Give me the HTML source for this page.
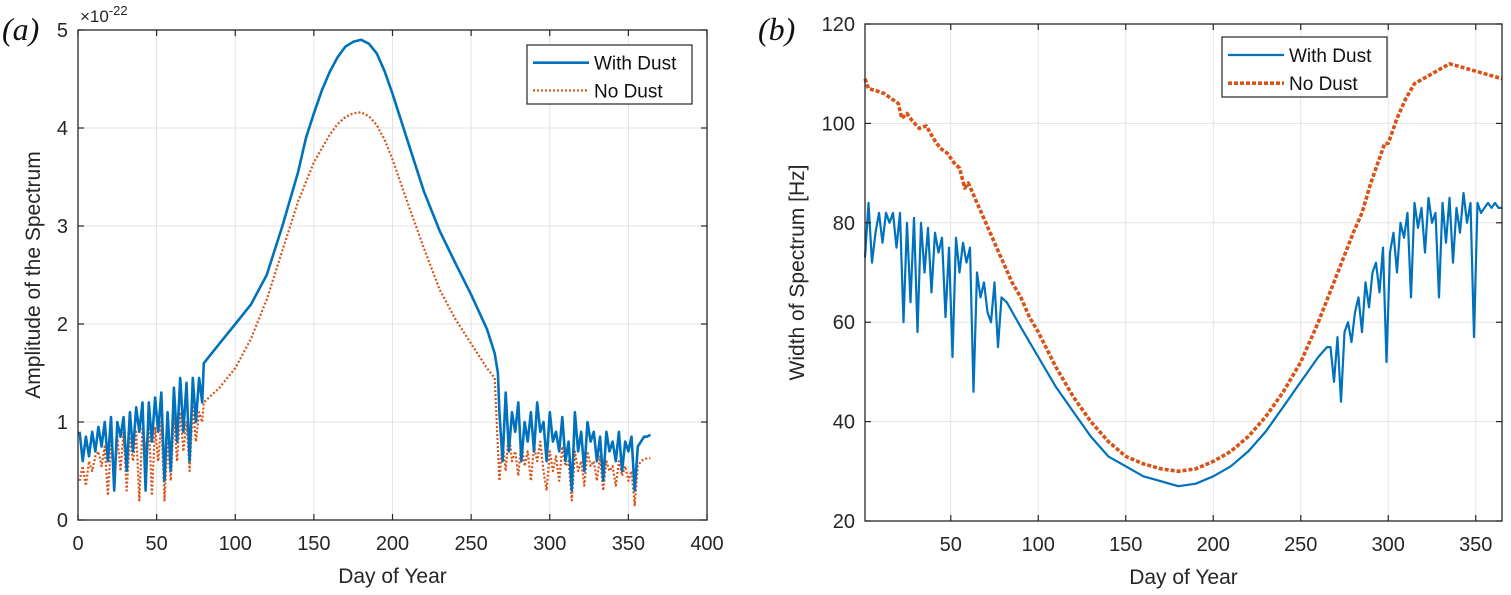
<!DOCTYPE html>
<html><head><meta charset="utf-8"><style>
html,body{margin:0;padding:0;background:#fff;}
svg{display:block;font-family:"Liberation Sans",Arial,sans-serif;}
</style></head><body>
<svg id="svg" width="1511" height="595" viewBox="0 0 1511 595"></svg>
<script>
// ---- Panel (a) data ----
const aWithDays = [1,3,5,7,9,11,13,15,17,19,21,23,25,27,29,31,33,35,37,39,41,43,45,47,49,51,53,55,57,59,61,63,65,67,69,71,73,75,77,79,
 80,90,100,110,120,130,140,145,150,155,160,165,170,175,180,185,190,195,200,210,220,230,240,250,260,265,267];
const aWithVals = [0.9,0.6,0.85,0.65,0.9,0.7,0.95,0.75,1.0,0.6,1.05,0.3,1.0,0.85,1.05,0.5,1.1,0.7,1.15,0.9,1.2,0.3,1.2,0.8,1.25,0.9,1.3,0.4,1.1,0.5,1.35,0.8,1.45,0.9,1.4,0.6,1.45,1.0,1.45,1.2,
 1.6,1.8,2.0,2.2,2.5,3.0,3.55,3.9,4.15,4.38,4.57,4.72,4.83,4.88,4.9,4.86,4.76,4.58,4.35,3.85,3.35,2.95,2.62,2.3,1.95,1.7,1.5];
const aWithTail = [1.1,0.6,1.3,0.7,1.1,0.9,1.2,0.6,1.0,0.8,1.1,0.7,1.2,0.9,1.0,0.6,1.1,0.8,0.9,0.7,1.05,0.6,0.8,0.3,1.1,0.7,0.9,0.5,1.0,0.8,0.9,0.6,0.85,0.4,0.9,0.7,0.8,0.6,0.9,0.5,0.8,0.7,0.85,0.3,0.75,0.8,0.85,0.85,0.87];
const aNoDays = [1,3,5,7,9,11,13,15,17,19,21,23,25,27,29,31,33,35,37,39,41,43,45,47,49,51,53,55,57,59,61,63,65,67,69,71,73,75,77,79,
 80,90,100,110,120,130,140,150,160,165,170,175,180,185,190,195,200,210,220,230,240,250,260,265];
const aNoVals = [0.4,0.55,0.35,0.6,0.5,0.65,0.7,0.55,0.75,0.25,0.8,0.4,0.85,0.5,0.9,0.3,0.85,0.6,0.9,0.2,0.95,0.7,1.0,0.25,0.95,0.6,1.0,0.2,0.8,0.4,1.05,0.6,1.1,0.7,1.0,0.5,1.15,0.8,1.1,1.0,
 1.2,1.35,1.55,1.85,2.25,2.75,3.25,3.65,3.93,4.04,4.11,4.15,4.16,4.12,4.03,3.88,3.68,3.22,2.77,2.35,2.05,1.8,1.55,1.45];
const aNoTail = [0.4,0.8,0.5,0.9,0.6,0.7,0.45,0.8,0.55,0.7,0.4,0.75,0.6,0.8,0.5,0.3,0.7,0.5,0.65,0.4,0.75,0.55,0.6,0.2,0.7,0.5,0.6,0.35,0.7,0.55,0.6,0.4,0.65,0.3,0.6,0.5,0.55,0.35,0.6,0.45,0.55,0.4,0.5,0.15,0.55,0.6,0.62,0.63,0.63];
const aTailStart = 268;
const aXTicks = [0,50,100,150,200,250,300,350,400];
const aYTicks = [0,1,2,3,4,5];

// ---- Panel (b) data ----
const bNoDays = [1,3,8,12,16,20,22,25,28,32,36,40,44,48,52,55,58,60,65,70,75,80,85,90,95,100,110,120,130,140,150,160,170,180,190,200,210,220,230,240,250,260,270,280,285,290,295,298,300,305,310,315,320,325,330,335,340,345,350,355,360,365];
const bNoVals = [109,107,106.5,106,105,104,101,102,100.5,99,99.5,97,95,94,92,91,87,88,84,80,76,72,68,65,61,58,51,45,40,36,33,31.5,30.5,30,30.5,32,34,37,41,46,52,60,69,78,82,88,93,96,96,101,105,108,109,110,111,112,111.5,111,110.5,110,109.5,109];
const bWithHead = [73,84,72,78,82,76,82,80,82,75,82,60,80,64,81,58,80,70,79,66,78,74,77,61,75,53,77,70,76,72,75,46,70,65,68,62,60,68,55,65];
const bWithMidDays = [82,90,100,110,120,130,140,150,160,170,180,190,200,210,220,230,240,250,260,265];
const bWithMidVals = [64,59,53,47,42,37,33,31,29,28,27,27.5,29,31,34,38,43,48,53,55];
const bWithTail = [55,48,57,44,58,60,56,62,65,58,68,63,70,72,66,75,52,74,78,70,80,77,82,65,84,79,83,74,85,80,82,65,84,76,85,72,83,78,86,80,84,57,84,82,83,84,83,84,83,83];
const bHeadStart = 1, bTailStart = 267;
const bXTicks = [50,100,150,200,250,300,350];
const bYTicks = [20,40,60,80,100,120];

const NS = "http://www.w3.org/2000/svg";
const svg = document.getElementById('svg');
function mk(tag, attrs, parent){
  const e = document.createElementNS(NS, tag);
  for (const k in attrs) e.setAttribute(k, attrs[k]);
  (parent||svg).appendChild(e);
  return e;
}
function seq(start, n){ const r=[]; for(let i=0;i<n;i++) r.push(start+2*i); return r; }

function axes(cfg){
  const g = mk('g', {});
  
  
  const X = v => cfg.x0 + (v - cfg.xmin) / (cfg.xmax - cfg.xmin) * (cfg.x1 - cfg.x0);
  const Y = v => cfg.y1 - (v - cfg.ymin) / (cfg.ymax - cfg.ymin) * (cfg.y1 - cfg.y0);
  cfg.xt.forEach(t => { const x=X(t); if (x>cfg.x0+1 && x<cfg.x1-1){
    const l = mk('line',{x1:x,x2:x,y1:cfg.y0,y2:cfg.y1,stroke:'#e3e3e3','stroke-width':1},g);
      }});
  cfg.yt.forEach(t => { const y=Y(t); if (y>cfg.y0+1 && y<cfg.y1-1){
    const l = mk('line',{x1:cfg.x0,x2:cfg.x1,y1:y,y2:y,stroke:'#e3e3e3','stroke-width':1},g);
      }});
  return {g,X,Y};
}
function frame(cfg, g, X, Y){
  const b = mk('rect',{x:cfg.x0,y:cfg.y0,width:cfg.x1-cfg.x0,height:cfg.y1-cfg.y0,fill:'none',stroke:'#262626','stroke-width':1.3},g);
   
  cfg.xt.forEach(t => { const x=X(t);
    mk('line',{x1:x,x2:x,y1:cfg.y1,y2:cfg.y1-6,stroke:'#262626','stroke-width':1.2},g);
    mk('line',{x1:x,x2:x,y1:cfg.y0,y2:cfg.y0+6,stroke:'#262626','stroke-width':1.2},g);
    const tx = mk('text',{x:x,y:cfg.y1+30,'text-anchor':'middle','font-size':20,fill:'#262626'},g);
    tx.textContent = t;
      });
  cfg.yt.forEach(t => { const y=Y(t);
    mk('line',{x1:cfg.x0,x2:cfg.x0+6,y1:y,y2:y,stroke:'#262626','stroke-width':1.2},g);
    mk('line',{x1:cfg.x1,x2:cfg.x1-6,y1:y,y2:y,stroke:'#262626','stroke-width':1.2},g);
    const tx = mk('text',{x:cfg.x0-10,y:y+7,'text-anchor':'end','font-size':20,fill:'#262626'},g);
    tx.textContent = t;
      });
  const xl = mk('text',{x:(cfg.x0+cfg.x1)/2,y:cfg.y1+63,'text-anchor':'middle','font-size':21,fill:'#262626'},g);
  xl.textContent = 'Day of Year';
   
  const yl = mk('text',{x:0,y:0,'text-anchor':'middle','font-size':21,fill:'#262626',transform:`translate(${cfg.ylx},${(cfg.y0+cfg.y1)/2}) rotate(-90)`},g);
  yl.textContent = cfg.ylabel;
   
  const pl = mk('text',{x:cfg.px,y:cfg.py,'font-size':32,'font-style':'italic','font-family':'"Liberation Serif",serif',fill:'#111'},g);
  pl.textContent = cfg.panel;
   
}
function line(g, X, Y, days, vals, style, name){
  const d = days.map((t,i)=>(i?'L':'M')+X(t).toFixed(1)+','+Y(vals[i]).toFixed(1)).join('');
  const p = mk('path',Object.assign({d:d,fill:'none','stroke-linejoin':'round'},style),g);
  
  
}
function legend(g, x, y, w, h, s1, s2){
  const lg = mk('g',{},g);
  
  
  mk('rect',{x:x,y:y,width:w,height:h,fill:'#fff',stroke:'#262626','stroke-width':1.2},lg);
  const r1 = y+h*0.3, r2 = y+h*0.77;
  mk('line',Object.assign({x1:x+6,x2:x+62,y1:r1,y2:r1},s1),lg);
  mk('line',Object.assign({x1:x+6,x2:x+62,y1:r2,y2:r2},s2),lg);
  const t1 = mk('text',{x:x+67,y:r1+7,'font-size':19,fill:'#111'},lg); t1.textContent='With Dust';
   
  const t2 = mk('text',{x:x+67,y:r2+7,'font-size':19,fill:'#111'},lg); t2.textContent='No Dust';
   
}

// Panel a
const ca = {name:'chart-a',x0:78,x1:707,y0:30,y1:520,xmin:0,xmax:400,ymin:0,ymax:5,xt:aXTicks,yt:aYTicks,
  ylabel:'Amplitude of the Spectrum',ylx:40,panel:'(a)',px:2,py:40};
const A = axes(ca);
const aStyleNo = {stroke:'#D95319','stroke-width':2.2,'stroke-dasharray':'2,2'};
const aStyleWith = {stroke:'#0072BD','stroke-width':2.6};
line(A.g,A.X,A.Y,aNoDays.concat(seq(aTailStart,aNoTail.length)),aNoVals.concat(aNoTail),aStyleNo,'series-no-dust');
line(A.g,A.X,A.Y,aWithDays.concat(seq(aTailStart,aWithTail.length)),aWithVals.concat(aWithTail),aStyleWith,'series-with-dust');
frame(ca,A.g,A.X,A.Y);
const ex = mk('text',{x:80,y:22,'font-size':17,fill:'#262626'},A.g);
ex.innerHTML = '×10<tspan dy="-7" font-size="13">-22</tspan>';
 
legend(A.g,527,45,165,59,aStyleWith,aStyleNo);

// Panel b
const cb = {name:'chart-b',x0:865,x1:1502,y0:24,y1:521,xmin:1,xmax:365,ymin:20,ymax:120,xt:bXTicks,yt:bYTicks,
  ylabel:'Width of Spectrum [Hz]',ylx:804,panel:'(b)',px:758,py:40};
const B = axes(cb);
const bStyleNo = {stroke:'#D95319','stroke-width':3.6,'stroke-dasharray':'4,2'};
const bStyleWith = {stroke:'#0072BD','stroke-width':2.2};
line(B.g,B.X,B.Y,seq(bHeadStart,bWithHead.length).concat(bWithMidDays,seq(bTailStart,bWithTail.length)),bWithHead.concat(bWithMidVals,bWithTail),bStyleWith,'series-with-dust');
line(B.g,B.X,B.Y,bNoDays,bNoVals,bStyleNo,'series-no-dust');
frame(cb,B.g,B.X,B.Y);
legend(B.g,1222,37,165,60,bStyleWith,bStyleNo);
</script>
</body></html>
